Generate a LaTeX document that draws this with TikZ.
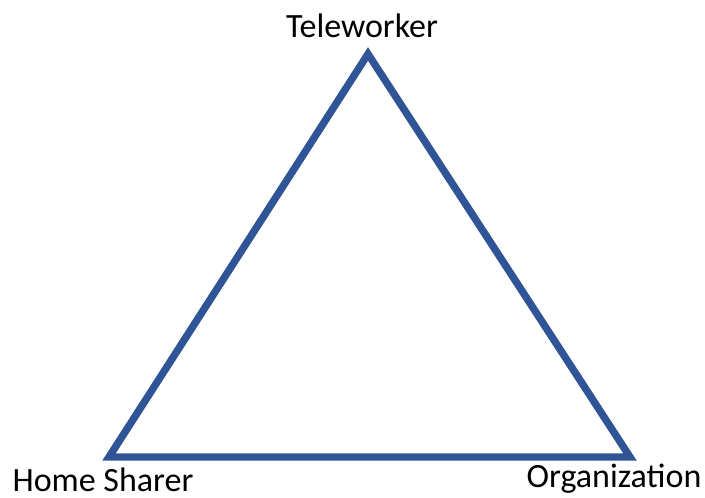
\documentclass[tikz,border=0pt]{standalone}
\usepackage{fontspec}
\setmainfont{Carlito}
\usetikzlibrary{positioning}
\definecolor{edgeblue}{RGB}{47,85,151}

\begin{document}
\begin{tikzpicture}[x=0.5pt,y=-0.5pt,
    side/.style={draw=edgeblue,line width=3.7pt,line join=miter},
    lbl/.style={font=\fontsize{17}{20}\selectfont,anchor=base,inner sep=0pt}]
  \useasboundingbox (0,0) rectangle (705,497);
  % corners of the triangle
  \coordinate (tw) at (368,54);
  \coordinate (hs) at (109,457);
  \coordinate (og) at (630,457);
  \draw[side] (tw) -- (hs) -- (og) -- cycle;
  % labels
  \node[lbl] (twl) at (362,38) {Teleworker};
  \node[lbl] (hsl) at (103,491) {Home Sharer};
  \node[lbl] (ogl) at (614,487) {Organization};
\end{tikzpicture}
\end{document}
